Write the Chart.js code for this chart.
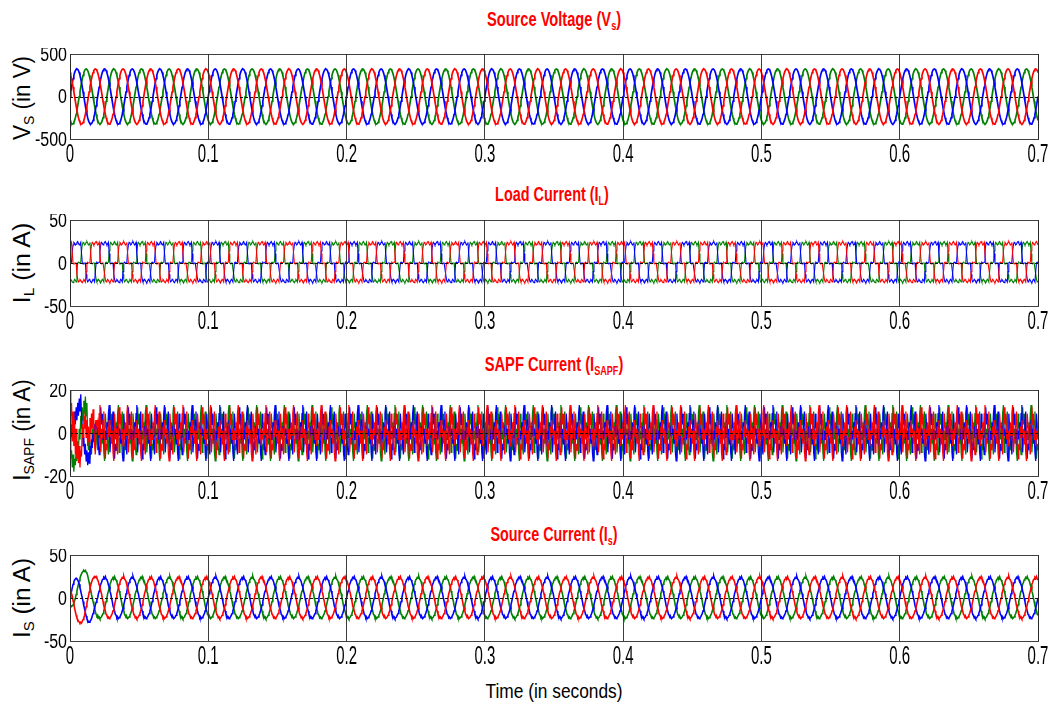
<!DOCTYPE html>
<html>
<head>
<meta charset="utf-8">
<script src="https://cdn.jsdelivr.net/npm/chart.js@4.4.1/dist/chart.umd.min.js"></script>
<style>
  html, body { margin: 0; padding: 0; background: #fff; }
  body { position: relative; width: 1051px; height: 709px; overflow: hidden;
         font-family: "Liberation Sans", Arial, Helvetica, sans-serif; }
  canvas { position: absolute; left: 0; }
  .txt { position: absolute; white-space: nowrap; line-height: 1; transform-origin: center center; }
  .title { color: #ff0000; font-weight: bold; font-size: 20px; }
  .ylab { color: #000; font-size: 23px; }
  .xlab { color: #000; font-size: 21px; }
  sub { font-size: 62%; vertical-align: -0.35em; line-height: 0; }
</style>
</head>
<body>
<div class="txt title" data-x="554" data-y="19" data-w="134">Source Voltage (V<sub>s</sub>)</div>
<div class="txt title" data-x="552" data-y="194" data-w="114">Load Current (I<sub>L</sub>)</div>
<div class="txt title" data-x="554" data-y="364" data-w="139">SAPF Current (I<sub>SAPF</sub>)</div>
<div class="txt title" data-x="554" data-y="534" data-w="127">Source Current (I<sub>s</sub>)</div>
<div class="txt ylab" data-x="22" data-y="98" data-w="84">V<sub>S</sub> (in V)</div>
<div class="txt ylab" data-x="22" data-y="263" data-w="80">I<sub>L</sub> (in A)</div>
<div class="txt ylab" data-x="22" data-y="430" data-w="102">I<sub>SAPF</sub> (in A)</div>
<div class="txt ylab" data-x="22" data-y="598" data-w="80">I<sub>S</sub> (in A)</div>
<div class="txt xlab" data-x="554" data-y="690" data-w="137">Time (in seconds)</div>

<canvas id="c1" width="1051" height="121" style="top:48px"></canvas>
<canvas id="c2" width="1051" height="122" style="top:214px"></canvas>
<canvas id="c3" width="1051" height="122" style="top:384px"></canvas>
<canvas id="c4" width="1051" height="122" style="top:549px"></canvas>

<script>
// one 50 Hz cycle sampled every 10 degrees (phase a); phases b/c are the same cycle shifted by 120 deg
const periodSec = 0.02;
const samplesPerCycle = 36;
const cycles = 35;

const xTickValues = [0, 0.1, 0.2, 0.3, 0.4, 0.5, 0.6, 0.7];
const xTickLabels = ['0', '0.1', '0.2', '0.3', '0.4', '0.5', '0.6', '0.7'];
const vsTicks = [-500, 0, 500];
const ilTicks = [-50, 0, 50];
const isapfTicks = [-20, 0, 20];
const isTicks = [-50, 0, 50];

const vsCycle = [0, 56, 111, 163, 209, 249, 281, 305, 320, 325, 320, 305, 281, 249, 209, 163, 111, 56,
  0, -56, -111, -163, -209, -249, -281, -305, -320, -325, -320, -305, -281, -249, -209, -163, -111, -56];

const ilCycle = [0, 0, 1, 14, 21, 24, 23, 21, 22, 24, 25, 23, 21, 22, 24, 11, 0, -1,
  0, 0, 0, -13, -19, -22, -21, -19, -20, -22, -23, -21, -19, -20, -22, -10, 0, 1];

const isapfCycle = [2, -6, -10, 4, 12, 4, 9, -3, 2, -6, 1, -3, 5, -1, 9, 13, -9, -3,
  -2, 6, 10, -4, -12, -5, -8, 3, -2, 6, -1, 2, -5, 1, -9, -13, 9, 3];

const isCycle = [0, 5, 8, 12, 16, 18, 21, 22, 24, 23, 25, 22, 21, 19, 15, 13, 8, 5,
  0, -4, -9, -12, -15, -19, -20, -23, -22, -24, -23, -22, -20, -18, -15, -12, -8, -4];

// first cycle after switching on the filter (start-up transient)
const isapfStartRed = [20, 8, 14, -4, 10, -6, 6, -10, 2, -12, -4, -14, -6, -16, -8, -11, 4, -2,
  8, 2, 10, -2, 6, -6, 3, -4, 7, 0, 9, 2, 11, 4, -6, -10, 6, 3];
const isapfStartGreen = [-4, -12, -8, -16, -10, -18, -12, -15, -8, -13, -4, -9, 2, -3, 8, 2, 12, 6,
  15, 9, 17, 8, 14, -2, -8, -4, -12, -6, -10, 2, -4, 3, -3, 5, 1, -5];
const isapfStartBlue = [0, -4, 4, -2, 8, 2, 10, 4, 12, 6, 14, 8, 16, 10, 18, 8, 2, -6,
  -2, -10, -5, -13, -8, -15, -9, -14, -6, -10, -3, -7, 0, -4, 4, -1, 6, 2];

const isStartRed = [10, 8, 5, 2, -3, -7, -12, -16, -20, -23, -25, -27, -28, -29, -28, -29, -27, -25,
  -23, -20, -15, -10, -6, -2, 2, 7, 11, 15, 18, 21, 23, 24, 25, 24, 25, 23];
const isStartGreen = [-8, -9, -10, -9, -8, -6, -3, 0, 4, 8, 12, 16, 20, 23, 26, 28, 30, 31,
  32, 31, 32, 30, 29, 26, 22, 18, 13, 9, 4, 0, -4, -8, -12, -16, -19, -21];
const isStartBlue = [0, 4, 8, 12, 16, 19, 21, 22, 23, 22, 21, 19, 16, 12, 8, 4, 0, -4,
  -9, -13, -17, -21, -24, -26, -28, -28, -27, -26, -24, -21, -18, -15, -12, -8, -5, -2];

const RED = '#ff0000', GREEN = '#008000', BLUE = '#0000ff';

function buildPhase(cycle, shift, start) {
  const pts = [];
  const n = samplesPerCycle;
  for (let k = 0; k <= cycles * n; k++) {
    const y = (start && k < n) ? start[k] : cycle[((k + shift) % n + n) % n];
    pts.push({ x: k * periodSec / n, y });
  }
  return pts;
}

function threePhase(cycle, starts) {
  const s = starts || {};
  return [
    { color: RED, data: buildPhase(cycle, 12, s.red) },
    { color: BLUE, data: buildPhase(cycle, 0, s.blue) },
    { color: GREEN, data: buildPhase(cycle, -12, s.green) }
  ];
}

const panels = [
  { id: 'c1', yTicks: vsTicks, width: 1.7, series: threePhase(vsCycle) },
  { id: 'c2', yTicks: ilTicks, width: 1.1, series: threePhase(ilCycle) },
  { id: 'c3', yTicks: isapfTicks, width: 1.3, series: threePhase(isapfCycle, { red: isapfStartRed, green: isapfStartGreen, blue: isapfStartBlue }) },
  { id: 'c4', yTicks: isTicks, width: 1.6, series: threePhase(isCycle, { red: isStartRed, green: isStartGreen, blue: isStartBlue }) }
];

const frameAndZero = {
  id: 'frameAndZero',
  afterDatasetsDraw(chart) {
    const { ctx, chartArea: a, scales: { y } } = chart;
    ctx.save();
    const y0 = Math.round(y.getPixelForValue(0)) + 0.5;
    ctx.strokeStyle = '#111';
    ctx.lineWidth = 1;
    ctx.setLineDash([3, 2]);
    ctx.beginPath();
    ctx.moveTo(a.left, y0);
    ctx.lineTo(a.right, y0);
    ctx.stroke();
    ctx.setLineDash([]);
    ctx.strokeStyle = '#404040';
    ctx.strokeRect(Math.round(a.left) + 0.5, Math.round(a.top) + 0.5,
      Math.round(a.right - a.left), Math.round(a.bottom - a.top));
    ctx.restore();
  }
};

const tickText = {
  id: 'tickText',
  afterDraw(chart) {
    const { ctx, scales: { x, y } } = chart;
    ctx.save();
    ctx.fillStyle = '#000';
    ctx.textBaseline = 'middle';
    ctx.textAlign = 'center';
    ctx.font = '25px "Liberation Sans", Arial, sans-serif';
    x.ticks.forEach((t, i) => {
      ctx.save();
      ctx.translate(x.getPixelForValue(t.value), y.bottom + 16);
      ctx.scale(0.6, 1);
      ctx.fillText(xTickLabels[i], 0, 0);
      ctx.restore();
    });
    ctx.textAlign = 'right';
    ctx.font = '20px "Liberation Sans", Arial, sans-serif';
    y.ticks.forEach(t => {
      ctx.save();
      ctx.translate(67, y.getPixelForValue(t.value) + 1);
      ctx.scale(0.8, 1);
      ctx.fillText(String(t.value), 0, 0);
      ctx.restore();
    });
    ctx.restore();
  }
};

panels.forEach(p => {
  new Chart(document.getElementById(p.id), {
    type: 'line',
    data: {
      datasets: p.series.map(s => ({
        data: s.data,
        borderColor: s.color,
        borderWidth: p.width,
        pointRadius: 0,
        tension: 0,
        fill: false
      }))
    },
    options: {
      responsive: false,
      animation: false,
      parsing: false,
      normalized: true,
      events: [],
      layout: { padding: { top: 6, right: 13, bottom: 0, left: 0 } },
      plugins: { legend: { display: false }, tooltip: { enabled: false } },
      scales: {
        x: {
          type: 'linear',
          min: 0,
          max: 0.7,
          afterBuildTicks: scale => { scale.ticks = xTickValues.map(v => ({ value: v })); },
          afterFit: scale => { scale.height = 30; },
          ticks: { display: false },
          border: { display: false },
          grid: { color: 'rgba(40,40,40,0.9)', lineWidth: 1, drawTicks: false, z: 1 }
        },
        y: {
          type: 'linear',
          min: p.yTicks[0],
          max: p.yTicks[p.yTicks.length - 1],
          afterBuildTicks: scale => { scale.ticks = p.yTicks.map(v => ({ value: v })); },
          afterFit: scale => { scale.width = 70; },
          ticks: { display: false },
          border: { display: false },
          grid: { display: false }
        }
      }
    },
    plugins: [frameAndZero, tickText]
  });
});

document.querySelectorAll('.txt').forEach(el => {
  const s = Number(el.dataset.w) / el.offsetWidth;
  el.style.left = el.dataset.x + 'px';
  el.style.top = el.dataset.y + 'px';
  const rot = el.classList.contains('ylab') ? ' rotate(-90deg)' : '';
  el.style.transform = `translate(-50%, -50%)${rot} scaleX(${s.toFixed(3)})`;
});
</script>
</body>
</html>
